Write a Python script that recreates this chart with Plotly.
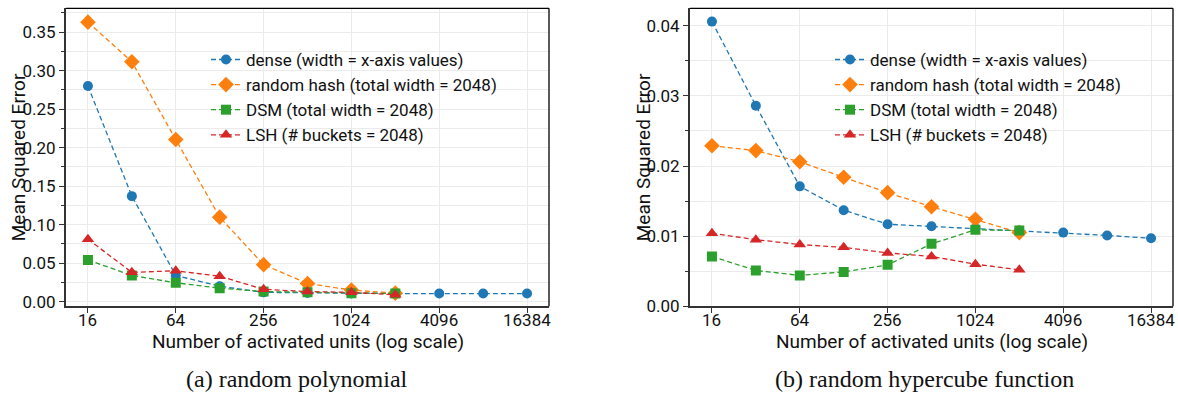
import math
import plotly.graph_objects as go

# ---------------- data ----------------
x_units = [16, 32, 64, 128, 256, 512, 1024, 2048, 4096, 8192, 16384]
x_hash = [16, 32, 64, 128, 256, 512, 1024, 2048]

# (a) random polynomial
poly_dense = [0.280, 0.137, 0.034, 0.020, 0.012, 0.0112, 0.0106, 0.0105, 0.0105, 0.0105, 0.0105]
poly_hash = [0.363, 0.3115, 0.2105, 0.1097, 0.048, 0.0235, 0.015, 0.011]
poly_dsm = [0.054, 0.034, 0.0244, 0.0175, 0.013, 0.012, 0.011, 0.0105]
poly_lsh = [0.081, 0.038, 0.040, 0.033, 0.016, 0.013, 0.012, 0.0088]

# (b) random hypercube function
cube_dense = [0.0406, 0.0286, 0.0171, 0.0137, 0.0117, 0.0114, 0.0111, 0.0108, 0.0105, 0.0101, 0.0097]
cube_hash = [0.0229, 0.0222, 0.0206, 0.0184, 0.0162, 0.0142, 0.0124, 0.0105]
cube_dsm = [0.0071, 0.0051, 0.0044, 0.0049, 0.0059, 0.0089, 0.0109, 0.0108]
cube_lsh = [0.0104, 0.0095, 0.0088, 0.0084, 0.0076, 0.0071, 0.0060, 0.0052]

series_names = [
    "dense (width = x-axis values)",
    "random hash (total width = 2048)",
    "DSM (total width = 2048)",
    "LSH (# buckets = 2048)",
]
x_tickvals = [16, 64, 256, 1024, 4096, 16384]
x_ticktext = ["16", "64", "256", "1024", "4096", "16384"]
captions = ["(a) random polynomial", "(b) random hypercube function"]
x_title = "Number of activated units (log scale)"
y_title = "Mean Squared Error"

colors = ["#1f77b4", "#ff7f0e", "#2ca02c", "#d62728"]
symbols = ["circle", "diamond", "square", "triangle-up"]
msizes = [10, 12, 10, 11]

W, H = 1178, 404
FONT = "Roboto"
FS = 17
FT = 19
TXT = "#111111"

fig = go.Figure()

panels = [
    ("x", "y", "legend", [poly_dense, poly_hash, poly_dsm, poly_lsh]),
    ("x2", "y2", "legend2", [cube_dense, cube_hash, cube_dsm, cube_lsh]),
]
for xa, ya, lg, data in panels:
    for i, ys in enumerate(data):
        xs = x_units if i == 0 else x_hash
        fig.add_trace(go.Scatter(
            x=xs, y=ys, xaxis=xa, yaxis=ya, legend=lg,
            name=series_names[i], mode="lines+markers",
            line=dict(color=colors[i], width=1.3, dash="5px,3px"),
            marker=dict(color=colors[i], symbol=symbols[i], size=msizes[i], line=dict(width=0)),
        ))

# pixel geometry
def px(v):
    return v / W

def py(v):
    return 1 - v / H

top, bottom = 8.5, 314
doms = [(66, 549), (690, 1173)]

common_x = dict(
    type="log", range=[3.5 * 0.30103, 14.5 * 0.30103],
    tickvals=x_tickvals, showticklabels=False,
    ticks="outside", ticklen=5, tickwidth=1.2, tickcolor="#333333",
    showline=True, linecolor="#333333", linewidth=2,
    showgrid=True, gridcolor="#ebebeb", gridwidth=1.2,
    zeroline=False,
)
common_y = dict(
    ticks="outside", ticklen=5, tickwidth=1.2, tickcolor="#333333",
    showline=True, linecolor="#333333", linewidth=2,
    showgrid=True, gridcolor="#ebebeb", gridwidth=1.2,
    tickfont=dict(family=FONT, size=FS, color=TXT),
    zeroline=False, tickformat=".2f",
)

fig.update_layout(
    width=W, height=H,
    margin=dict(l=0, r=0, t=0, b=0),
    paper_bgcolor="white", plot_bgcolor="white",
    font=dict(family=FONT, size=FS, color=TXT),
    xaxis=dict(common_x, domain=[px(doms[0][0]), px(doms[0][1])], anchor="y"),
    yaxis=dict(common_y, domain=[py(bottom), py(top)], anchor="x",
               range=[-0.006, 0.381], dtick=0.05, tick0=0,
               minor=dict(dtick=0.025, tick0=0, ticks="outside", ticklen=3, tickcolor="#333333",
                          showgrid=True, gridcolor="#ebebeb", gridwidth=1.2)),
    xaxis2=dict(common_x, domain=[px(doms[1][0]), px(doms[1][1])], anchor="y2"),
    yaxis2=dict(common_y, domain=[py(bottom), py(top)], anchor="x2",
                range=[0, 0.0425], dtick=0.01, tick0=0,
                minor=dict(dtick=0.005, tick0=0, ticks="outside", ticklen=3, tickcolor="#333333",
                           showgrid=True, gridcolor="#ebebeb", gridwidth=1.2)),
    legend=dict(x=px(206), y=py(43), xanchor="left", yanchor="top",
                bgcolor="rgba(255,255,255,0)", font=dict(family=FONT, size=FS, color=TXT)),
    legend2=dict(x=px(830), y=py(43), xanchor="left", yanchor="top",
                 bgcolor="rgba(255,255,255,0)", font=dict(family=FONT, size=FS, color=TXT)),
    showlegend=True,
)

# top/right frame lines
for xa in ["x", "x2"]:
    ya = "y" if xa == "x" else "y2"
    fig.add_shape(type="line", xref=f"{xa} domain", yref=f"{ya} domain",
                  x0=0, x1=1, y0=1, y1=1, line=dict(color="black", width=1.3))
    fig.add_shape(type="line", xref=f"{xa} domain", yref=f"{ya} domain",
                  x0=1, x1=1, y0=0, y1=1, line=dict(color="black", width=1.3))

# x tick labels (placed on the log axes at the tick values)
for xa in ["x", "x2"]:
    for v, t in zip(x_tickvals, x_ticktext):
        fig.add_annotation(text=t, x=math.log10(v), xref=xa, y=py(328), yref="paper",
                           showarrow=False, xanchor="center", yanchor="middle",
                           font=dict(family=FONT, size=FS, color=TXT))

# axis titles and captions
for k, (l, r) in enumerate(doms):
    cx = (l + r) / 2
    fig.add_annotation(text=x_title, x=px(cx), y=py(350), xref="paper", yref="paper",
                       showarrow=False, xanchor="center", yanchor="middle",
                       font=dict(family=FONT, size=FT, color=TXT))
    fig.add_annotation(text=y_title, x=px(18 if k == 0 else 643), y=py((top + bottom) / 2),
                       xref="paper", yref="paper", showarrow=False, textangle=-90,
                       xanchor="center", yanchor="middle",
                       font=dict(family=FONT, size=FT, color=TXT))
    fig.add_annotation(text=captions[k], x=px(297 if k == 0 else 924), y=py(389),
                       xref="paper", yref="paper", showarrow=False,
                       xanchor="center", yanchor="middle",
                       font=dict(family="Liberation Serif", size=24, color=TXT))

fig.write_html("out.html", config={"displayModeBar": False},
               post_script="document.body.style.margin='0';")
